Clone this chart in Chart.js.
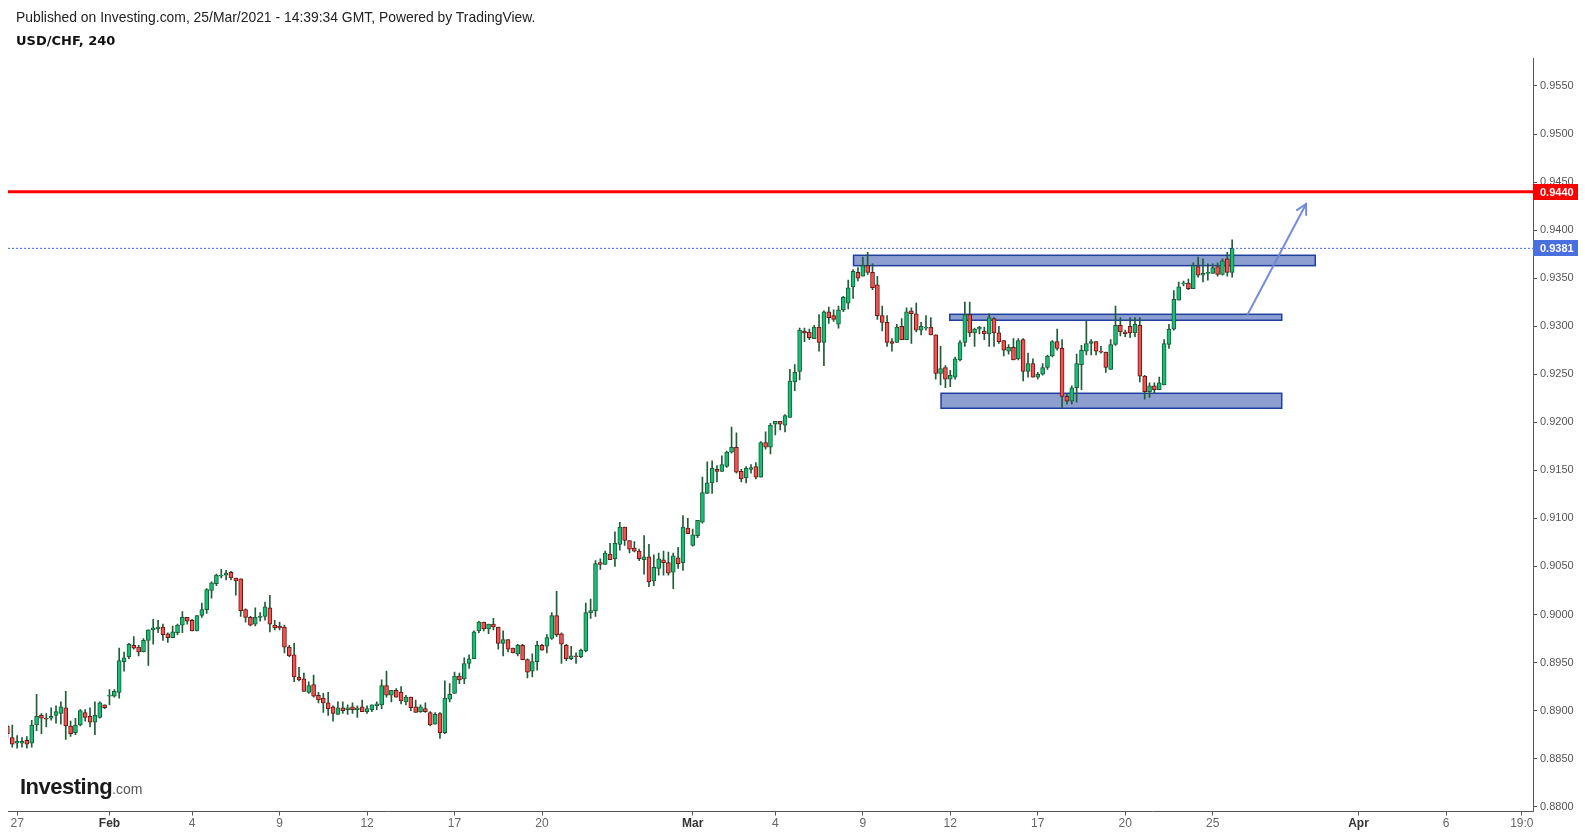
<!DOCTYPE html>
<html><head><meta charset="utf-8">
<script src="https://cdn.jsdelivr.net/npm/chart.js@4.4.0/dist/chart.umd.min.js"></script>
<style>
html,body{margin:0;padding:0;background:#fff;}
#wrap{position:relative;width:1585px;height:835px;overflow:hidden;background:#fff;}
#c{position:absolute;left:0;top:0;}
.t1{position:absolute;left:16px;top:10px;font:13.9px/14px "Liberation Sans",Arial,sans-serif;color:#222;white-space:nowrap;}
.t2{position:absolute;left:16px;top:34px;font:bold 13px/13px "DejaVu Sans",Verdana,sans-serif;color:#111;white-space:nowrap;}
.logo{position:absolute;left:20px;top:776px;font:bold 22px/22px "Liberation Sans",Arial,sans-serif;color:#1a1a1a;letter-spacing:-0.5px;white-space:nowrap;}
.logo span{font:14px "Liberation Sans",Arial,sans-serif;color:#555;letter-spacing:0;}
</style></head>
<body>
<div id="wrap">
<canvas id="c" width="1585" height="835" style="width:1585px;height:835px"></canvas>
<div class="t1">Published on Investing.com, 25/Mar/2021 - 14:39:34 GMT, Powered by TradingView.</div>
<div class="t2">USD/CHF, 240</div>
<div class="logo">Investing<span>.com</span></div>
</div>
<script>
// ---- data (USD/CHF, 4h candles) ----
const opens = [
0.8884,0.8872,0.8866,0.8866,0.8869,0.8866,0.8885,0.8895,0.8892,0.8892,
0.8895,0.8897,0.8903,0.8884,0.8877,0.8885,0.8898,0.8894,0.8888,0.8893,
0.8906,0.8915,0.8915,0.8919,0.8951,0.8956,0.8968,0.8966,0.8961,0.8973,
0.8984,0.8985,0.8987,0.8980,0.8976,0.8981,0.8989,0.8997,0.8994,0.8983,
0.8999,0.9005,0.9025,0.9032,0.9040,0.9041,0.9044,0.9038,0.9037,0.9005,
0.8997,0.8990,0.8997,0.8998,0.9007,0.8989,0.8988,0.8987,0.8966,0.8958,
0.8935,0.8933,0.8919,0.8927,0.8916,0.8913,0.8908,0.8904,0.8896,0.8903,
0.8901,0.8904,0.8901,0.8904,0.8899,0.8901,0.8905,0.8906,0.8926,0.8916,
0.8921,0.8919,0.8909,0.8914,0.8904,0.8899,0.8902,0.8898,0.8886,0.8897,
0.8877,0.8912,0.8918,0.8936,0.8933,0.8949,0.8954,0.8983,0.8992,0.8985,
0.8990,0.8987,0.8970,0.8974,0.8965,0.8959,0.8968,0.8953,0.8941,0.8951,
0.8968,0.8967,0.8975,0.8999,0.8980,0.8968,0.8954,0.8957,0.8956,0.8962,
0.9002,0.9004,0.9054,0.9052,0.9063,0.9058,0.9073,0.9091,0.9077,0.9069,
0.9066,0.9057,0.9060,0.9035,0.9048,0.9057,0.9054,0.9044,0.9059,0.9054,
0.9090,0.9072,0.9082,0.9096,0.9126,0.9137,0.9151,0.9149,0.9154,0.9169,
0.9174,0.9149,0.9142,0.9151,0.9154,0.9143,0.9179,0.9174,0.9198,0.9201,
0.9197,0.9205,0.9242,0.9253,0.9295,0.9294,0.9287,0.9299,0.9283,0.9315,
0.9311,0.9302,0.9317,0.9324,0.9341,0.9356,0.9352,0.9363,0.9356,0.9343,
0.9311,0.9304,0.9284,0.9283,0.9300,0.9286,0.9316,0.9313,0.9296,0.9298,
0.9299,0.9291,0.9251,0.9257,0.9245,0.9247,0.9265,0.9283,0.9312,0.9293,
0.9297,0.9295,0.9292,0.9308,0.9293,0.9285,0.9274,0.9278,0.9266,0.9286,
0.9253,0.9261,0.9247,0.9250,0.9257,0.9269,0.9284,0.9277,0.9227,0.9222,
0.9236,0.9260,0.9274,0.9282,0.9284,0.9274,0.9273,0.9255,0.9281,0.9301,
0.9294,0.9300,0.9293,0.9301,0.9248,0.9232,0.9238,0.9234,0.9239,0.9281,
0.9297,0.9327,0.9344,0.9345,0.9339,0.9362,0.9353,0.9355,0.9355,0.9362,
0.9354,0.9370,0.9356];
const highs = [
0.8886,0.8885,0.8874,0.8872,0.8873,0.8890,0.8917,0.8897,0.8897,0.8903,
0.8905,0.8909,0.8920,0.8889,0.8892,0.8901,0.8901,0.8903,0.8909,0.8909,
0.8906,0.8922,0.8922,0.8965,0.8961,0.8970,0.8977,0.8968,0.8975,0.8984,
0.8995,0.8994,0.8990,0.8981,0.8988,0.8990,0.9003,0.8997,0.8995,0.8999,
0.9012,0.9027,0.9034,0.9042,0.9047,0.9046,0.9045,0.9038,0.9037,0.9006,
0.8998,0.9007,0.9002,0.9013,0.9020,0.8994,0.8992,0.8989,0.8968,0.8970,
0.8945,0.8939,0.8930,0.8937,0.8919,0.8918,0.8919,0.8905,0.8909,0.8909,
0.8906,0.8908,0.8905,0.8911,0.8905,0.8906,0.8909,0.8932,0.8941,0.8921,
0.8923,0.8925,0.8916,0.8914,0.8911,0.8906,0.8908,0.8899,0.8898,0.8898,
0.8931,0.8928,0.8940,0.8939,0.8955,0.8958,0.8983,0.8993,0.8992,0.8990,
0.8996,0.8987,0.8983,0.8974,0.8965,0.8969,0.8969,0.8954,0.8959,0.8972,
0.8969,0.8979,0.9002,0.9024,0.8981,0.8969,0.8967,0.8960,0.8964,0.9012,
0.9016,0.9056,0.9058,0.9066,0.9074,0.9086,0.9096,0.9091,0.9077,0.9076,
0.9068,0.9082,0.9073,0.9062,0.9064,0.9066,0.9065,0.9064,0.9070,0.9103,
0.9100,0.9089,0.9098,0.9143,0.9159,0.9160,0.9155,0.9165,0.9170,0.9195,
0.9189,0.9151,0.9154,0.9156,0.9158,0.9180,0.9190,0.9199,0.9201,0.9201,
0.9208,0.9255,0.9260,0.9298,0.9298,0.9297,0.9301,0.9312,0.9316,0.9320,
0.9317,0.9321,0.9331,0.9348,0.9359,0.9361,0.9372,0.9377,0.9365,0.9352,
0.9321,0.9311,0.9287,0.9302,0.9308,0.9319,0.9319,0.9324,0.9304,0.9311,
0.9309,0.9291,0.9279,0.9259,0.9254,0.9268,0.9285,0.9325,0.9325,0.9298,
0.9300,0.9299,0.9313,0.9309,0.9300,0.9285,0.9281,0.9287,0.9287,0.9287,
0.9272,0.9266,0.9252,0.9261,0.9270,0.9285,0.9297,0.9286,0.9229,0.9238,
0.9271,0.9280,0.9305,0.9286,0.9284,0.9279,0.9273,0.9286,0.9321,0.9309,
0.9296,0.9309,0.9309,0.9309,0.9249,0.9241,0.9241,0.9247,0.9286,0.9302,
0.9337,0.9346,0.9347,0.9349,0.9366,0.9372,0.9370,0.9365,0.9365,0.9366,
0.9370,0.9377,0.9390];
const lows = [
0.8872,0.8862,0.8861,0.8862,0.8861,0.8862,0.8879,0.8876,0.8883,0.8890,
0.8887,0.8886,0.8870,0.8873,0.8875,0.8884,0.8889,0.8883,0.8875,0.8892,
0.8902,0.8906,0.8914,0.8913,0.8941,0.8954,0.8964,0.8957,0.8961,0.8947,
0.8969,0.8981,0.8973,0.8971,0.8976,0.8979,0.8981,0.8990,0.8983,0.8983,
0.8997,0.9001,0.9017,0.9030,0.9038,0.9036,0.9036,0.9020,0.8998,0.8992,
0.8988,0.8988,0.8993,0.8994,0.8982,0.8984,0.8984,0.8960,0.8956,0.8930,
0.8931,0.8920,0.8918,0.8914,0.8908,0.8898,0.8895,0.8889,0.8896,0.8897,
0.8896,0.8897,0.8893,0.8899,0.8897,0.8899,0.8901,0.8902,0.8914,0.8909,
0.8914,0.8907,0.8906,0.8900,0.8898,0.8898,0.8898,0.8884,0.8886,0.8871,
0.8876,0.8909,0.8918,0.8928,0.8928,0.8944,0.8954,0.8981,0.8983,0.8980,
0.8984,0.8964,0.8957,0.8961,0.8960,0.8957,0.8953,0.8934,0.8935,0.8942,
0.8963,0.8960,0.8974,0.8977,0.8949,0.8952,0.8953,0.8949,0.8955,0.8961,
0.8996,0.8998,0.9047,0.9052,0.9057,0.9050,0.9067,0.9072,0.9064,0.9065,
0.9056,0.9042,0.9029,0.9030,0.9041,0.9041,0.9041,0.9027,0.9048,0.9046,
0.9084,0.9071,0.9080,0.9095,0.9126,0.9126,0.9138,0.9149,0.9153,0.9168,
0.9147,0.9138,0.9137,0.9147,0.9141,0.9143,0.9172,0.9167,0.9187,0.9192,
0.9190,0.9205,0.9233,0.9244,0.9284,0.9286,0.9287,0.9274,0.9259,0.9303,
0.9305,0.9298,0.9315,0.9318,0.9329,0.9347,0.9352,0.9354,0.9338,0.9307,
0.9295,0.9279,0.9274,0.9283,0.9286,0.9286,0.9282,0.9294,0.9291,0.9296,
0.9291,0.9245,0.9239,0.9236,0.9237,0.9245,0.9264,0.9279,0.9289,0.9279,
0.9292,0.9286,0.9279,0.9279,0.9282,0.9269,0.9271,0.9265,0.9265,0.9243,
0.9247,0.9247,0.9245,0.9249,0.9255,0.9268,0.9275,0.9215,0.9219,0.9219,
0.9221,0.9234,0.9270,0.9270,0.9270,0.9272,0.9252,0.9255,0.9280,0.9290,
0.9289,0.9288,0.9289,0.9242,0.9224,0.9226,0.9230,0.9234,0.9239,0.9277,
0.9296,0.9327,0.9342,0.9338,0.9339,0.9351,0.9346,0.9348,0.9355,0.9352,
0.9353,0.9352,0.9351];
const closes = [
0.8876,0.8865,0.8868,0.8868,0.8865,0.8885,0.8894,0.8892,0.8891,0.8894,
0.8899,0.8904,0.8884,0.8876,0.8885,0.8900,0.8893,0.8888,0.8895,0.8908,
0.8903,0.8916,0.8920,0.8952,0.8955,0.8969,0.8965,0.8961,0.8973,0.8984,
0.8986,0.8987,0.8979,0.8976,0.8982,0.8989,0.8997,0.8993,0.8983,0.8999,
0.9005,0.9026,0.9033,0.9041,0.9041,0.9043,0.9038,0.9035,0.9004,0.8997,
0.8989,0.8997,0.8998,0.9008,0.8990,0.8986,0.8986,0.8966,0.8957,0.8935,
0.8932,0.8920,0.8926,0.8915,0.8911,0.8908,0.8902,0.8897,0.8903,0.8900,
0.8903,0.8901,0.8903,0.8899,0.8902,0.8906,0.8907,0.8926,0.8916,0.8921,
0.8914,0.8910,0.8914,0.8903,0.8898,0.8904,0.8899,0.8885,0.8896,0.8877,
0.8913,0.8917,0.8936,0.8932,0.8949,0.8954,0.8982,0.8992,0.8985,0.8990,
0.8987,0.8970,0.8974,0.8964,0.8960,0.8968,0.8953,0.8940,0.8951,0.8968,
0.8963,0.8976,0.8999,0.8979,0.8969,0.8954,0.8957,0.8956,0.8963,0.9002,
0.9004,0.9053,0.9052,0.9064,0.9057,0.9074,0.9091,0.9077,0.9068,0.9066,
0.9058,0.9060,0.9034,0.9049,0.9058,0.9054,0.9043,0.9061,0.9053,0.9091,
0.9084,0.9083,0.9098,0.9127,0.9137,0.9152,0.9149,0.9156,0.9169,0.9174,
0.9148,0.9141,0.9152,0.9153,0.9143,0.9179,0.9174,0.9197,0.9201,0.9198,
0.9207,0.9243,0.9252,0.9296,0.9293,0.9288,0.9299,0.9283,0.9315,0.9309,
0.9307,0.9317,0.9330,0.9340,0.9357,0.9350,0.9363,0.9356,0.9340,0.9311,
0.9304,0.9283,0.9282,0.9299,0.9286,0.9315,0.9313,0.9296,0.9300,0.9299,
0.9291,0.9251,0.9256,0.9245,0.9249,0.9266,0.9283,0.9312,0.9293,0.9297,
0.9299,0.9292,0.9309,0.9293,0.9284,0.9275,0.9278,0.9265,0.9285,0.9253,
0.9261,0.9247,0.9250,0.9257,0.9269,0.9284,0.9277,0.9227,0.9222,0.9236,
0.9261,0.9275,0.9282,0.9284,0.9274,0.9273,0.9257,0.9281,0.9301,0.9294,
0.9292,0.9293,0.9302,0.9248,0.9232,0.9238,0.9234,0.9241,0.9282,0.9297,
0.9328,0.9341,0.9345,0.9339,0.9363,0.9353,0.9355,0.9356,0.9361,0.9354,
0.9368,0.9356,0.9381];

// x-axis tick labels (candle index positions) and texts
const xTickIdx  = [2, 21, 38, 56, 74, 92, 110, 141, 158, 176, 194, 212, 230, 248, 278, 296, 311.6];
const xTickText = ['27','Feb','4','9','12','17','20','Mar','4','9','12','17','20','25','Apr','6','19:0'];
const monthLabels = ['Feb','Mar','Apr'];
// y-axis tick values
const yTicks = [0.8800,0.8850,0.8900,0.8950,0.9000,0.9050,0.9100,0.9150,0.9200,0.9250,0.9300,0.9350,0.9400,0.9450,0.9500,0.9550];
// horizontal levels
const levelValues = [0.9440, 0.9381];
const levelColors = ['#ff0000', '#4a6fdf'];
// drawn zones (candle-index start/end, price top/bottom)
const zoneStart = [174.1, 193.9, 192.1];
const zoneEnd   = [269.1, 262.2, 262.2];
const zoneTop   = [0.93738, 0.93124, 0.92302];
const zoneBottom= [0.93630, 0.93062, 0.92146];
// arrow (candle index, price)
const arrowFrom = [255.2, 0.93124];
const arrowTo   = [267.2, 0.94272];

const X_MIN = 0.12, X_MAX = 313.9, Y_MIN = 0.87950, Y_MAX = 0.95791;

const idx = opens.map((_, i) => i);
const isUp = idx.map(i => closes[i] >= opens[i]);
const bodyFill = isUp.map(u => u ? '#12c176' : '#f25350');
const bodyBorder = isUp.map(u => u ? '#1b5b36' : '#6a1414');

const zonesPlugin = {
  id: 'zones',
  beforeDatasetsDraw(chart) {
    const {ctx, scales: {x, y}, chartArea} = chart;
    ctx.save();
    ctx.beginPath(); ctx.rect(chartArea.left, chartArea.top, chartArea.right - chartArea.left, chartArea.bottom - chartArea.top); ctx.clip();
    for (let k = 0; k < zoneStart.length; k++) {
      const x0 = x.getPixelForValue(zoneStart[k]), x1 = x.getPixelForValue(zoneEnd[k]);
      const y0 = y.getPixelForValue(zoneTop[k]), y1 = y.getPixelForValue(zoneBottom[k]);
      ctx.fillStyle = '#8c9fd0';
      ctx.fillRect(x0, y0, x1 - x0, y1 - y0);
      ctx.strokeStyle = '#1f3f9e';
      ctx.lineWidth = 1.5;
      ctx.strokeRect(x0, y0, x1 - x0, y1 - y0);
    }
    ctx.restore();
  },
  afterDatasetsDraw(chart) {
    const {ctx, scales: {x, y}} = chart;
    const ax = x.getPixelForValue(arrowFrom[0]), ay = y.getPixelForValue(arrowFrom[1]);
    const bx = x.getPixelForValue(arrowTo[0]), by = y.getPixelForValue(arrowTo[1]);
    ctx.save();
    ctx.strokeStyle = 'rgba(110,135,214,0.95)';
    ctx.lineWidth = 2;
    ctx.lineCap = 'round';
    ctx.beginPath(); ctx.moveTo(ax, ay); ctx.lineTo(bx, by); ctx.stroke();
    const ang = Math.atan2(by - ay, bx - ax);
    const L = 11, spread = 0.5;
    ctx.beginPath();
    ctx.moveTo(bx - L * Math.cos(ang - spread), by - L * Math.sin(ang - spread));
    ctx.lineTo(bx, by);
    ctx.lineTo(bx - L * Math.cos(ang + spread), by - L * Math.sin(ang + spread));
    ctx.stroke();
    ctx.restore();
  },
  afterDraw(chart) {
    const {ctx, scales: {y}, chartArea} = chart;
    ctx.save();
    for (let k = 0; k < levelValues.length; k++) {
      const py = y.getPixelForValue(levelValues[k]);
      ctx.fillStyle = levelColors[k];
      ctx.fillRect(chartArea.right, Math.round(py) - 8, 45, 16);
      ctx.fillStyle = '#ffffff';
      ctx.font = 'bold 11px "Liberation Sans", Arial, sans-serif';
      ctx.textBaseline = 'middle';
      ctx.textAlign = 'left';
      ctx.fillText(levelValues[k].toFixed(4), chartArea.right + 7, Math.round(py) + 0.5);
    }
    ctx.restore();
  }
};

new Chart(document.getElementById('c'), {
  type: 'bar',
  data: {
    datasets: [
      {
        type: 'line',
        data: [{x: X_MIN, y: levelValues[0]}, {x: X_MAX, y: levelValues[0]}],
        borderColor: levelColors[0], borderWidth: 3, pointRadius: 0, order: -2
      },
      {
        type: 'line',
        data: [{x: X_MIN, y: levelValues[1]}, {x: X_MAX, y: levelValues[1]}],
        borderColor: levelColors[1], borderWidth: 1, borderDash: [2, 2], pointRadius: 0, order: -1
      },
      {
        label: 'body',
        data: idx.map(i => ({x: i, y: [opens[i], closes[i]]})),
        backgroundColor: bodyFill, borderColor: bodyBorder, borderWidth: 1,
        borderSkipped: false, barThickness: 4, minBarLength: 1, grouped: false, order: 0
      },
      {
        label: 'wick',
        data: idx.map(i => ({x: i, y: [lows[i], highs[i]]})),
        backgroundColor: '#1f5c38', borderWidth: 0,
        barThickness: 1, grouped: false, order: 1
      }
    ]
  },
  options: {
    responsive: false, animation: false, events: [],
    layout: {padding: {left: 8, top: 58, right: 0, bottom: 0}},
    plugins: {legend: {display: false}, tooltip: {enabled: false}},
    scales: {
      x: {
        type: 'linear', min: X_MIN, max: X_MAX, offset: false,
        afterBuildTicks: s => { s.ticks = xTickIdx.map(v => ({value: v})); },
        afterFit: s => { s.height = 23.5; },
        ticks: {
          autoSkip: false, maxRotation: 0, minRotation: 0, padding: 1,
          callback: (v, i) => xTickText[i],
          color: ctx => monthLabels.includes(xTickText[ctx.index]) ? '#333' : '#666',
          font: ctx => ({family: '"Liberation Sans Narrow", "Arial Narrow", "Liberation Sans", Arial, sans-serif', size: 12,
                         weight: monthLabels.includes(xTickText[ctx.index]) ? 'bold' : 'normal'})
        },
        grid: {drawOnChartArea: false, drawTicks: true, tickLength: 4, color: '#555', offset: false},
        border: {display: true, color: '#555', width: 1}
      },
      y: {
        position: 'right', min: Y_MIN, max: Y_MAX,
        afterBuildTicks: s => { s.ticks = yTicks.map(v => ({value: v})); },
        afterFit: s => { s.width = 52; },
        ticks: {
          padding: 3, color: '#555',
          font: {family: '"Liberation Sans", Arial, sans-serif', size: 11},
          callback: v => Number(v).toFixed(4)
        },
        grid: {drawOnChartArea: false, drawTicks: true, tickLength: 4, color: '#555'},
        border: {display: true, color: '#555', width: 1}
      }
    }
  },
  plugins: [zonesPlugin]
});
</script>
</body></html>
